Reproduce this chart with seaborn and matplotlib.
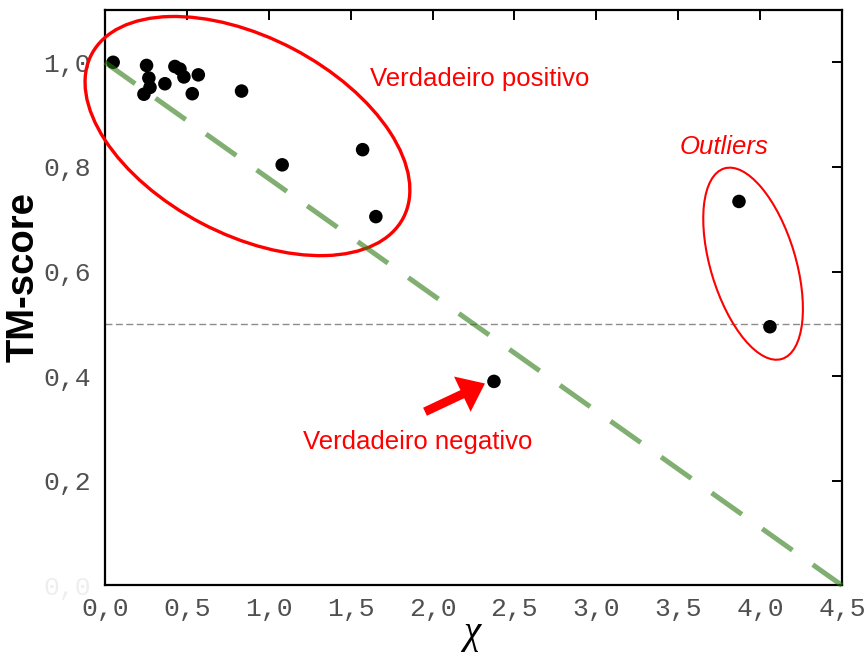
import matplotlib
matplotlib.use("Agg")
import matplotlib.pyplot as plt
from matplotlib import transforms, font_manager
from matplotlib.patches import Ellipse
import seaborn as sns
import pandas as pd

# Structural alignment results: chi deviation vs TM-score
chi = [0.050, 0.254, 0.268, 0.275, 0.238, 0.366, 0.427, 0.458, 0.482,
       0.570, 0.533, 0.834, 1.082, 1.573, 1.654, 2.375, 3.871, 4.060]
tm_score = [1.000, 0.994, 0.970, 0.952, 0.939, 0.959, 0.992, 0.987, 0.972,
            0.976, 0.940, 0.945, 0.804, 0.833, 0.705, 0.390, 0.734, 0.4945]

# Reference diagonal and the TM-score significance threshold
ref_x = [0.0, 4.5]
ref_y = [1.0, 0.0]
threshold = 0.5

x_ticks = [0.0, 0.5, 1.0, 1.5, 2.0, 2.5, 3.0, 3.5, 4.0, 4.5]
x_tick_labels = ["0,0", "0,5", "1,0", "1,5", "2,0", "2,5", "3,0", "3,5", "4,0", "4,5"]
y_ticks = [0.0, 0.2, 0.4, 0.6, 0.8, 1.0]
y_tick_labels = ["0,0", "0,2", "0,4", "0,6", "0,8", "1,0"]

sns.set_style("white")

installed = {f.name for f in font_manager.fontManager.ttflist}
sans = "Liberation Sans" if "Liberation Sans" in installed else "DejaVu Sans"
mono = "Liberation Mono" if "Liberation Mono" in installed else "DejaVu Sans Mono"
serif = "Liberation Serif" if "Liberation Serif" in installed else "DejaVu Serif"

DPI = 100
fig = plt.figure(figsize=(8.66, 6.53), dpi=DPI)
ax = fig.add_axes([0.1212, 0.1035, 0.8511, 0.8812])

df = pd.DataFrame({"chi": chi, "tm": tm_score})
sns.scatterplot(data=df, x="chi", y="tm", ax=ax, color="black", s=95,
                edgecolor="none", linewidth=0, zorder=3)

# threshold line
ax.axhline(threshold, color="#8c8c8c", lw=1.0, dashes=(5, 2.5), zorder=1)

# diagonal reference, semi-transparent green drawn over everything
ax.plot(ref_x, ref_y, color=(0.17, 0.48, 0.07), alpha=0.6, lw=3.6,
        dashes=(7.4, 5.0), solid_capstyle="butt", dash_capstyle="butt",
        zorder=6, clip_on=False)


def pixel_ellipse(cx, cy, w_px, h_px, angle, lw):
    # ellipse sized in pixels, centred on a data point
    trans = fig.dpi_scale_trans + transforms.ScaledTranslation(cx, cy, ax.transData)
    e = Ellipse((0, 0), w_px / DPI, h_px / DPI, angle=angle, transform=trans,
                fill=False, edgecolor="#ff0000", lw=lw, zorder=4, clip_on=False)
    ax.add_patch(e)


pixel_ellipse(0.87, 0.859, 352, 197, -27.7, 2.4)
pixel_ellipse(3.957, 0.615, 199, 85, -73.2, 1.5)

red_font = dict(family=sans, size=18.5, color="#ff0000")
ax.text(1.621, 0.954, "Verdadeiro positivo", ha="left", va="baseline", **red_font)
ax.text(1.211, 0.261, "Verdadeiro negativo", ha="left", va="baseline", **red_font)
ax.text(3.510, 0.825, "Outliers", ha="left", va="baseline", style="italic", **red_font)

ax.annotate("", xy=(2.320, 0.386), xytext=(1.954, 0.332),
            arrowprops=dict(arrowstyle="simple,head_length=0.9,head_width=1.4,tail_width=0.32",
                            color="#ff0000", lw=0, shrinkA=0, shrinkB=0,
                            mutation_scale=20), zorder=5)

ax.set_xlim(0, 4.5)
ax.set_ylim(0, 1.1)
ax.set_xticks(x_ticks)
ax.set_xticklabels(x_tick_labels, fontfamily=mono, fontsize=19, color="#505050")
ax.set_yticks(y_ticks)
ax.set_yticklabels(y_tick_labels, fontfamily=mono, fontsize=19, color="#505050")
ax.get_yticklabels()[0].set_color("#eeeeee")
ax.tick_params(direction="in", length=7, width=1.4, top=True, right=True,
               color="black")
ax.tick_params(axis="x", pad=8)
ax.tick_params(axis="y", pad=10)

for sp in ax.spines.values():
    sp.set_visible(True)
    sp.set_color("black")
    sp.set_linewidth(1.6)

ax.set_xlabel("χ", fontfamily=serif, fontsize=28, style="italic", va="center",
              color="black")
ax.xaxis.set_label_coords(0.4976, -0.084)
ax.set_ylabel("TM-score", fontfamily=sans, fontweight="bold", fontsize=27.5,
              va="center", rotation=90, color="black")
ax.yaxis.set_label_coords(-0.110, 0.536)

fig.savefig("out.png", dpi=DPI, facecolor="white")
